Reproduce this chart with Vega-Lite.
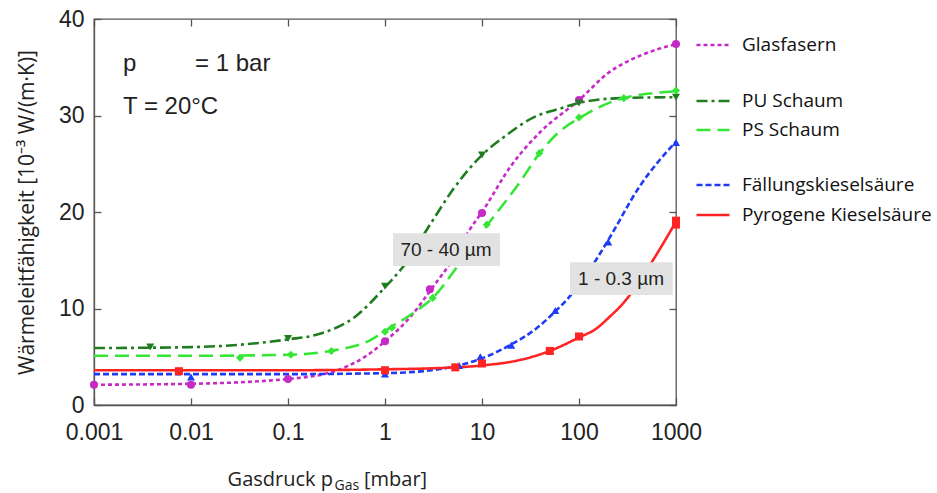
{
  "$schema": "https://vega.github.io/schema/vega-lite/v6.json",
  "width": 582,
  "height": 386,
  "autosize": {"type": "none"},
  "padding": {"left": 94, "top": 19, "right": 261, "bottom": 88},
  "background": "white",
  "config": {
    "view": {"stroke": "#555", "strokeWidth": 1.3},
    "axis": {"grid": false, "domainColor": "#555", "tickColor": "#555", "domainWidth": 1.3, "tickWidth": 1.3},
    "legend": {
      "symbolType": "stroke", "symbolStrokeWidth": 2.6, "symbolSize": 1089,
      "labelFont": "Open Sans", "labelFontSize": 19, "labelColor": "#111", "labelLimit": 400,
      "labelOffset": 11, "padding": 0, "title": null
    }
  },
  "datasets": {
    "curves": [
      {"series": "Glasfasern", "p": 0.001, "k": 2.1},
      {"series": "Glasfasern", "p": 0.01, "k": 2.2},
      {"series": "Glasfasern", "p": 0.1, "k": 2.7},
      {"series": "Glasfasern", "p": 0.3, "k": 3.5},
      {"series": "Glasfasern", "p": 0.6, "k": 4.9},
      {"series": "Glasfasern", "p": 1, "k": 6.6},
      {"series": "Glasfasern", "p": 2, "k": 9.6},
      {"series": "Glasfasern", "p": 3, "k": 12.0},
      {"series": "Glasfasern", "p": 5, "k": 15.1},
      {"series": "Glasfasern", "p": 7.5, "k": 18.2},
      {"series": "Glasfasern", "p": 10, "k": 20.0},
      {"series": "Glasfasern", "p": 20, "k": 24.8},
      {"series": "Glasfasern", "p": 40, "k": 28.3},
      {"series": "Glasfasern", "p": 100, "k": 31.6},
      {"series": "Glasfasern", "p": 200, "k": 34.4},
      {"series": "Glasfasern", "p": 450, "k": 36.3},
      {"series": "Glasfasern", "p": 1000, "k": 37.4},
      {"series": "PU Schaum", "p": 0.001, "k": 5.9},
      {"series": "PU Schaum", "p": 0.01, "k": 6.0},
      {"series": "PU Schaum", "p": 0.1, "k": 6.8},
      {"series": "PU Schaum", "p": 0.2, "k": 7.3},
      {"series": "PU Schaum", "p": 0.5, "k": 9.2},
      {"series": "PU Schaum", "p": 1, "k": 12.2},
      {"series": "PU Schaum", "p": 1.5, "k": 14.2},
      {"series": "PU Schaum", "p": 3, "k": 18.9},
      {"series": "PU Schaum", "p": 5, "k": 22.3},
      {"series": "PU Schaum", "p": 10, "k": 25.9},
      {"series": "PU Schaum", "p": 17, "k": 27.8},
      {"series": "PU Schaum", "p": 34, "k": 29.8},
      {"series": "PU Schaum", "p": 68, "k": 30.8},
      {"series": "PU Schaum", "p": 100, "k": 31.3},
      {"series": "PU Schaum", "p": 265, "k": 31.8},
      {"series": "PU Schaum", "p": 1000, "k": 31.9},
      {"series": "PS Schaum", "p": 0.001, "k": 5.1},
      {"series": "PS Schaum", "p": 0.01, "k": 5.1},
      {"series": "PS Schaum", "p": 0.1, "k": 5.2},
      {"series": "PS Schaum", "p": 0.27, "k": 5.6},
      {"series": "PS Schaum", "p": 0.7, "k": 6.7},
      {"series": "PS Schaum", "p": 1.12, "k": 8.0},
      {"series": "PS Schaum", "p": 2, "k": 9.6},
      {"series": "PS Schaum", "p": 3.1, "k": 11.1},
      {"series": "PS Schaum", "p": 6, "k": 14.8},
      {"series": "PS Schaum", "p": 10, "k": 17.9},
      {"series": "PS Schaum", "p": 25, "k": 23.2},
      {"series": "PS Schaum", "p": 40, "k": 26.2},
      {"series": "PS Schaum", "p": 64, "k": 28.4},
      {"series": "PS Schaum", "p": 100, "k": 29.7},
      {"series": "PS Schaum", "p": 285, "k": 31.8},
      {"series": "PS Schaum", "p": 1000, "k": 32.5},
      {"series": "Fällungskieselsäure", "p": 0.001, "k": 3.2},
      {"series": "Fällungskieselsäure", "p": 0.01, "k": 3.2},
      {"series": "Fällungskieselsäure", "p": 0.1, "k": 3.2},
      {"series": "Fällungskieselsäure", "p": 1, "k": 3.3},
      {"series": "Fällungskieselsäure", "p": 3, "k": 3.6},
      {"series": "Fällungskieselsäure", "p": 5.8, "k": 4.1},
      {"series": "Fällungskieselsäure", "p": 11, "k": 5.0},
      {"series": "Fällungskieselsäure", "p": 19.4, "k": 6.2},
      {"series": "Fällungskieselsäure", "p": 37, "k": 8.0},
      {"series": "Fällungskieselsäure", "p": 57, "k": 9.7},
      {"series": "Fällungskieselsäure", "p": 81, "k": 11.3},
      {"series": "Fällungskieselsäure", "p": 121, "k": 13.6},
      {"series": "Fällungskieselsäure", "p": 195, "k": 16.9},
      {"series": "Fällungskieselsäure", "p": 425, "k": 22.7},
      {"series": "Fällungskieselsäure", "p": 1000, "k": 27.3},
      {"series": "Pyrogene Kieselsäure", "p": 0.001, "k": 3.6},
      {"series": "Pyrogene Kieselsäure", "p": 0.01, "k": 3.6},
      {"series": "Pyrogene Kieselsäure", "p": 0.1, "k": 3.6},
      {"series": "Pyrogene Kieselsäure", "p": 1, "k": 3.7},
      {"series": "Pyrogene Kieselsäure", "p": 3, "k": 3.8},
      {"series": "Pyrogene Kieselsäure", "p": 10, "k": 4.1},
      {"series": "Pyrogene Kieselsäure", "p": 23, "k": 4.6},
      {"series": "Pyrogene Kieselsäure", "p": 50, "k": 5.6},
      {"series": "Pyrogene Kieselsäure", "p": 100, "k": 7.0},
      {"series": "Pyrogene Kieselsäure", "p": 150, "k": 7.9},
      {"series": "Pyrogene Kieselsäure", "p": 200, "k": 9.0},
      {"series": "Pyrogene Kieselsäure", "p": 300, "k": 10.8},
      {"series": "Pyrogene Kieselsäure", "p": 500, "k": 14.0},
      {"series": "Pyrogene Kieselsäure", "p": 1000, "k": 19.0}
    ],
    "markers": [
      {"series": "Glasfasern", "p": 0.001, "k": 2.1},
      {"series": "Glasfasern", "p": 0.01, "k": 2.1},
      {"series": "Glasfasern", "p": 0.1, "k": 2.7},
      {"series": "Glasfasern", "p": 1, "k": 6.6},
      {"series": "Glasfasern", "p": 2.9, "k": 12.0},
      {"series": "Glasfasern", "p": 10, "k": 19.9},
      {"series": "Glasfasern", "p": 100, "k": 31.6},
      {"series": "Glasfasern", "p": 1000, "k": 37.4},
      {"series": "PU Schaum", "p": 0.0038, "k": 6.0},
      {"series": "PU Schaum", "p": 0.1, "k": 6.9},
      {"series": "PU Schaum", "p": 1, "k": 12.3},
      {"series": "PU Schaum", "p": 10, "k": 25.9},
      {"series": "PU Schaum", "p": 100, "k": 31.3},
      {"series": "PU Schaum", "p": 1000, "k": 31.9},
      {"series": "PS Schaum", "p": 0.032, "k": 4.9},
      {"series": "PS Schaum", "p": 0.107, "k": 5.2},
      {"series": "PS Schaum", "p": 0.28, "k": 5.6},
      {"series": "PS Schaum", "p": 1, "k": 7.6},
      {"series": "PS Schaum", "p": 1.18, "k": 8.0},
      {"series": "PS Schaum", "p": 3.1, "k": 11.1},
      {"series": "PS Schaum", "p": 11.2, "k": 18.7},
      {"series": "PS Schaum", "p": 39, "k": 26.1},
      {"series": "PS Schaum", "p": 100, "k": 29.8},
      {"series": "PS Schaum", "p": 290, "k": 31.8},
      {"series": "PS Schaum", "p": 1000, "k": 32.6},
      {"series": "Fällungskieselsäure", "p": 0.01, "k": 2.9},
      {"series": "Fällungskieselsäure", "p": 1, "k": 3.2},
      {"series": "Fällungskieselsäure", "p": 5.8, "k": 4.1},
      {"series": "Fällungskieselsäure", "p": 9.6, "k": 5.0},
      {"series": "Fällungskieselsäure", "p": 20, "k": 6.2},
      {"series": "Fällungskieselsäure", "p": 57, "k": 9.8},
      {"series": "Fällungskieselsäure", "p": 200, "k": 16.9},
      {"series": "Fällungskieselsäure", "p": 1000, "k": 27.2},
      {"series": "Pyrogene Kieselsäure", "p": 0.0075, "k": 3.5},
      {"series": "Pyrogene Kieselsäure", "p": 1, "k": 3.6},
      {"series": "Pyrogene Kieselsäure", "p": 5.3, "k": 3.9},
      {"series": "Pyrogene Kieselsäure", "p": 10, "k": 4.3},
      {"series": "Pyrogene Kieselsäure", "p": 50, "k": 5.6},
      {"series": "Pyrogene Kieselsäure", "p": 100, "k": 7.1},
      {"series": "Pyrogene Kieselsäure", "p": 1000, "k": 18.7},
      {"series": "Pyrogene Kieselsäure", "p": 1000, "k": 19.1}
    ],
    "one": [{}]
  },
  "layer": [
    {
      "data": {"name": "curves"},
      "transform": [{"filter": "datum.series === 'Glasfasern'"}],
      "mark": {"type": "line", "strokeWidth": 2.6, "interpolate": "monotone"},
      "encoding": {
        "x": {"field": "p", "type": "quantitative",
          "scale": {"type": "log", "domain": [0.001, 1000], "nice": false},
          "axis": {"values": [0.001, 0.01, 0.1, 1, 10, 100, 1000], "format": "~g", "title": null,
            "labelFont": "Liberation Sans", "labelFontSize": 23, "labelColor": "#222",
            "tickSize": -7, "labelPadding": 23, "labelFlush": false, "labelOverlap": false}},
        "y": {"field": "k", "type": "quantitative",
          "scale": {"domain": [0, 40], "nice": false},
          "axis": {"values": [0, 10, 20, 30, 40], "title": "Wärmeleitfähigkeit [10⁻³ W/(m·K)]",
            "labelFont": "Liberation Sans", "labelFontSize": 23, "labelColor": "#222",
            "tickSize": -7, "labelPadding": 17,
            "titleFont": "Open Sans", "titleFontSize": 21, "titleFontWeight": "normal", "titleColor": "#222",
            "titlePadding": 21}},
        "color": {"field": "series", "type": "nominal",
          "scale": {"domain": ["Glasfasern"], "range": ["#c62ac6"]},
          "legend": {"orient": "none", "legendX": 601, "legendY": 8}},
        "strokeDash": {"field": "series", "type": "nominal",
          "scale": {"domain": ["Glasfasern"], "range": [[4, 3]]},
          "legend": {"orient": "none", "legendX": 601, "legendY": 8}}
      }
    },
    {
      "data": {"name": "curves"},
      "transform": [{"filter": "datum.series === 'PU Schaum' || datum.series === 'PS Schaum'"}],
      "mark": {"type": "line", "strokeWidth": 2.6, "interpolate": "monotone"},
      "encoding": {
        "x": {"field": "p", "type": "quantitative", "axis": null},
        "y": {"field": "k", "type": "quantitative", "axis": null},
        "color": {"field": "series", "type": "nominal",
          "scale": {"domain": ["PU Schaum", "PS Schaum"], "range": ["#1f7d1f", "#36e636"]},
          "legend": {"orient": "none", "legendX": 601, "legendY": 64, "rowPadding": 1}},
        "strokeDash": {"field": "series", "type": "nominal",
          "scale": {"domain": ["PU Schaum", "PS Schaum"], "range": [[11, 4, 3, 4], [14, 7]]},
          "legend": {"orient": "none", "legendX": 601, "legendY": 64, "rowPadding": 1}}
      }
    },
    {
      "data": {"name": "curves"},
      "transform": [{"filter": "datum.series === 'Fällungskieselsäure' || datum.series === 'Pyrogene Kieselsäure'"}],
      "mark": {"type": "line", "strokeWidth": 2.6, "interpolate": "monotone"},
      "encoding": {
        "x": {"field": "p", "type": "quantitative", "axis": null},
        "y": {"field": "k", "type": "quantitative", "axis": null},
        "color": {"field": "series", "type": "nominal",
          "scale": {"domain": ["Fällungskieselsäure", "Pyrogene Kieselsäure"], "range": ["#1e3cf5", "#ff2424"]},
          "legend": {"orient": "none", "legendX": 601, "legendY": 148, "rowPadding": 2}},
        "strokeDash": {"field": "series", "type": "nominal",
          "scale": {"domain": ["Fällungskieselsäure", "Pyrogene Kieselsäure"], "range": [[6, 3], [1, 0]]},
          "legend": {"orient": "none", "legendX": 601, "legendY": 148, "rowPadding": 2}}
      }
    },
    {
      "data": {"name": "markers"},
      "mark": {"type": "point", "filled": true, "opacity": 1, "size": 65},
      "encoding": {
        "x": {"field": "p", "type": "quantitative",
          "axis": {"orient": "top", "values": [0.001, 0.01, 0.1, 1, 10, 100, 1000], "labels": false, "domain": false, "tickSize": -7, "title": null}},
        "y": {"field": "k", "type": "quantitative",
          "axis": {"orient": "right", "values": [0, 10, 20, 30, 40], "labels": false, "domain": false, "tickSize": -7, "title": null}},
        "color": {"field": "series", "type": "nominal",
          "scale": {"domain": ["Glasfasern", "PU Schaum", "PS Schaum", "Fällungskieselsäure", "Pyrogene Kieselsäure"],
            "range": ["#c62ac6", "#1f7d1f", "#36e636", "#1e3cf5", "#ff2424"]},
          "legend": null},
        "shape": {"field": "series", "type": "nominal",
          "scale": {"domain": ["Glasfasern", "PU Schaum", "PS Schaum", "Fällungskieselsäure", "Pyrogene Kieselsäure"],
            "range": ["circle", "triangle-down", "diamond", "triangle-up", "square"]},
          "legend": null}
      }
    },
    {
      "data": {"name": "one"},
      "mark": {"type": "rect", "color": "#e2e2e2"},
      "encoding": {
        "x": {"datum": 1.21, "type": "quantitative", "axis": null},
        "x2": {"datum": 15.3},
        "y": {"datum": 17.8, "type": "quantitative", "axis": null},
        "y2": {"datum": 14.4}
      }
    },
    {
      "data": {"name": "one"},
      "mark": {"type": "rect", "color": "#e2e2e2"},
      "encoding": {
        "x": {"datum": 80.7, "type": "quantitative", "axis": null},
        "x2": {"datum": 925},
        "y": {"datum": 14.8, "type": "quantitative", "axis": null},
        "y2": {"datum": 11.4}
      }
    },
    {
      "data": {"name": "one"},
      "mark": {"type": "text", "font": "Liberation Sans", "fontSize": 19, "color": "#222", "align": "center", "baseline": "middle"},
      "encoding": {
        "x": {"datum": 4.26, "type": "quantitative", "axis": null},
        "y": {"datum": 16.1, "type": "quantitative", "axis": null},
        "text": {"value": "70 - 40 µm"}
      }
    },
    {
      "data": {"name": "one"},
      "mark": {"type": "text", "font": "Liberation Sans", "fontSize": 19, "color": "#222", "align": "center", "baseline": "middle"},
      "encoding": {
        "x": {"datum": 271, "type": "quantitative", "axis": null},
        "y": {"datum": 13.1, "type": "quantitative", "axis": null},
        "text": {"value": "1 - 0.3 µm"}
      }
    },
    {
      "data": {"name": "one"},
      "mark": {"type": "text", "font": "Liberation Sans", "fontSize": 24, "color": "#222", "align": "left", "baseline": "alphabetic"},
      "encoding": {
        "x": {"datum": 0.00199, "type": "quantitative", "axis": null},
        "y": {"datum": 34.6, "type": "quantitative", "axis": null},
        "text": {"value": "p"}
      }
    },
    {
      "data": {"name": "one"},
      "mark": {"type": "text", "font": "Liberation Sans", "fontSize": 24, "color": "#222", "align": "left", "baseline": "alphabetic"},
      "encoding": {
        "x": {"datum": 0.011, "type": "quantitative", "axis": null},
        "y": {"datum": 34.6, "type": "quantitative", "axis": null},
        "text": {"value": "= 1 bar"}
      }
    },
    {
      "data": {"name": "one"},
      "mark": {"type": "text", "font": "Liberation Sans", "fontSize": 24, "color": "#222", "align": "left", "baseline": "alphabetic"},
      "encoding": {
        "x": {"datum": 0.00199, "type": "quantitative", "axis": null},
        "y": {"datum": 30.2, "type": "quantitative", "axis": null},
        "text": {"value": "T = 20°C"}
      }
    },
    {
      "data": {"name": "one"},
      "mark": {"type": "text", "font": "Open Sans", "fontSize": 20, "color": "#222", "align": "right", "baseline": "alphabetic"},
      "encoding": {
        "x": {"datum": 0.291, "type": "quantitative", "axis": null},
        "y": {"datum": -8.4, "type": "quantitative", "axis": null},
        "text": {"value": "Gasdruck p"}
      }
    },
    {
      "data": {"name": "one"},
      "mark": {"type": "text", "font": "Open Sans", "fontSize": 14, "color": "#222", "align": "left", "baseline": "alphabetic"},
      "encoding": {
        "x": {"datum": 0.302, "type": "quantitative", "axis": null},
        "y": {"datum": -8.85, "type": "quantitative", "axis": null},
        "text": {"value": "Gas"}
      }
    },
    {
      "data": {"name": "one"},
      "mark": {"type": "text", "font": "Open Sans", "fontSize": 20, "color": "#222", "align": "left", "baseline": "alphabetic"},
      "encoding": {
        "x": {"datum": 0.608, "type": "quantitative", "axis": null},
        "y": {"datum": -8.4, "type": "quantitative", "axis": null},
        "text": {"value": "[mbar]"}
      }
    }
  ],
  "resolve": {
    "scale": {"color": "independent", "strokeDash": "independent", "shape": "independent"},
    "axis": {"x": "independent", "y": "independent"}
  }
}
